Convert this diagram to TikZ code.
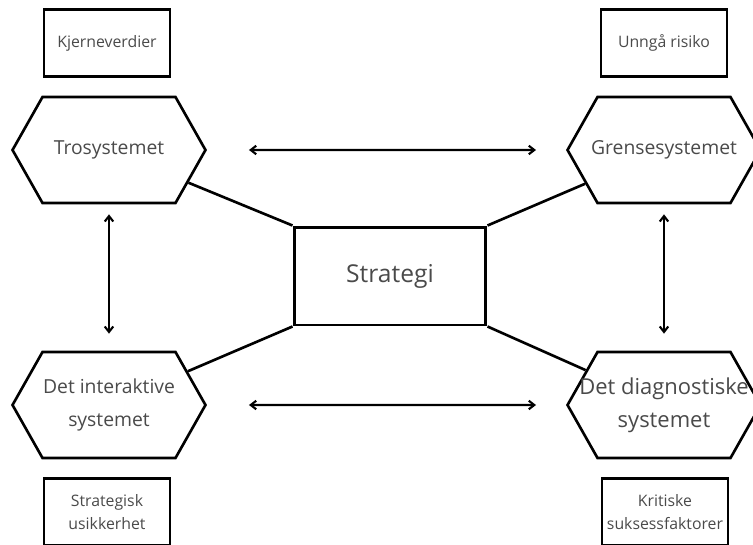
\documentclass[tikz,border=0pt]{standalone}
\usepackage{fontspec}
\setmainfont{Open Sans}
\usepackage{xcolor}
\usetikzlibrary{positioning}
\usetikzlibrary{arrows.meta}
\usetikzlibrary{shapes.symbols}
\definecolor{txtgray}{HTML}{4A4A4A}
\newcommand{\hexline}[1]{\makebox[0pt]{#1}}

\begin{document}
\begin{tikzpicture}[x=0.02cm, y=-0.02cm,
		hexa/.style={signal, signal to=west and east, signal pointer angle=121,
				draw, line width=1.5pt, minimum width=3.86cm, minimum height=2.12cm,
				inner sep=0pt, align=center, text=txtgray,
				font=\fontsize{11}{18.5}\selectfont},
		valuebox/.style={rectangle, draw, line width=1.3pt,
				minimum width=2.52cm, minimum height=1.34cm, inner sep=0pt,
				align=center, text=txtgray, font=\fontsize{9}{13}\selectfont},
		core/.style={rectangle, draw, line width=1.7pt,
				minimum width=3.84cm, minimum height=1.96cm,
				text=txtgray, font=\fontsize{14}{16}\selectfont},
		link/.style={line width=1.5pt},
		biarrow/.style={{Straight Barb[length=1.1mm,width=1.7mm]}-{Straight Barb[length=1.1mm,width=1.7mm]},
				line width=1.2pt}
	]
	\useasboundingbox (0,0) rectangle (753,544);

	% the four control systems
	\node[hexa] (tros) at (109,150) {\hexline{Trosystemet}};
	\node[hexa] (grense) at (664,150) {\hexline{Grensesystemet}};
	\node[hexa] (inter) at (109,405) {\hexline{Det interaktive}\\\hexline{systemet}};
	\node[hexa, font=\fontsize{12.5}{19}\selectfont] (diag) at (664,405) {\hexline{Det diagnostiske}\\\hexline{systemet}};

	% what each system is about
	\node[valuebox] (kjerne) at (107,43) {Kjerneverdier};
	\node[valuebox] (risiko) at (664,43) {Unngå risiko};
	\node[valuebox] (usikker) at (107,512) {Strategisk\\usikkerhet};
	\node[valuebox] (kritisk) at (665,512) {Kritiske\\suksessfaktorer};

	% strategy in the middle
	\node[core] (strat) at (390,276) {Strategi};

	% links
	\draw[link] (strat.north west) -- (tros);
	\draw[link] (strat.north east) -- (grense);
	\draw[link] (strat.south west) -- (inter);
	\draw[link] (strat.south east) -- (diag);

	% arrows
	\draw[biarrow, shorten <=0.84cm, shorten >=0.6cm] (tros) -- (grense);
	\draw[biarrow, shorten <=0.84cm, shorten >=0.6cm] (inter) -- (diag);
	\draw[biarrow, shorten <=0.2cm, shorten >=0.34cm] (tros) -- (inter);
	\draw[biarrow, shorten <=0.2cm, shorten >=0.34cm] (grense) -- (diag);

\end{tikzpicture}
\end{document}
